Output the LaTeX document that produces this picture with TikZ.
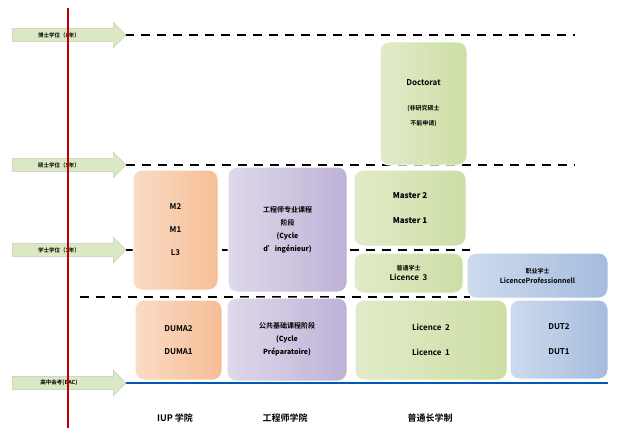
\documentclass[tikz,border=0pt]{standalone}
\usepackage{fontspec}
\setmainfont{Noto Sans CJK SC}[BoldFont=* Bold]
\usetikzlibrary{shapes.arrows}
\definecolor{org}{RGB}{246,190,150}
\definecolor{pur}{RGB}{190,178,214}
\definecolor{grn}{RGB}{205,222,165}
\definecolor{blu}{RGB}{165,188,222}
\definecolor{arr}{RGB}{218,232,196}
\tikzset{
 bx/.style={rounded corners=9pt, draw=white, line width=1pt, inner sep=0pt, align=center, font=\bfseries\fontsize{8}{15}\selectfont},
 ob/.style={bx, left color=org!55, right color=org},
 pb/.style={bx, left color=pur!50, right color=pur},
 gb/.style={bx, left color=grn!60, right color=grn},
 bb/.style={bx, left color=blu!55, right color=blu},
 lvl/.style={single arrow, draw=arr!70!black!60, fill=arr, minimum height=114pt, minimum width=26pt, single arrow head extend=4pt, single arrow head indent=0pt, inner sep=1pt, font=\bfseries\fontsize{5.5}{6}\selectfont, anchor=west},
 dl/.style={dashed, dash pattern=on 9pt off 7pt, line width=1.3pt},
 bl/.style={font=\bfseries\fontsize{9}{10}\selectfont}
}
\begin{document}
\begin{tikzpicture}[x=1pt,y=-1pt]
\useasboundingbox[fill=white] (0,0) rectangle (640,444);
% dashed lines
\coordinate (d1a) at (125,35); \coordinate (d1b) at (575,35);
\coordinate (d2a) at (110,165); \coordinate (d2b) at (575,165);
\coordinate (d3a) at (110,250); \coordinate (d3b) at (470,250);
\coordinate (d4a) at (80,297); \coordinate (d4b) at (470,297);
\coordinate (ba) at (123,383); \coordinate (bb) at (608,383);
\draw[dl] (d1a) -- (d1b);
\draw[dl] (d2a) -- (d2b);
\draw[dl] (d3a) -- (d3b);
\draw[dl] (d4a) -- (d4b);
\draw[line width=2pt, blue!50!cyan!70!black] (ba) -- (bb);
% red line
\coordinate (ra) at (68,8); \coordinate (rb) at (68,428);
% arrows
\node[lvl] (a1) at (12,35) {\hspace*{-14pt}博士学位（8年）};
\node[lvl] (a2) at (12,165) {\hspace*{-14pt}硕士学位（5年）};
\node[lvl] (a3) at (12,250) {\hspace*{-14pt}学士学位（3年）};
\node[lvl] (a4) at (12,383) {\hspace*{-14pt}高中会考(BAC)};
\draw[line width=2.2pt, red!75!black] (ra) -- (rb);
% boxes
\node[ob, minimum width=85pt, minimum height=120pt] (iu) at (175.5,230) {M2\\[8pt]M1\\[8pt]L3};
\node[ob, minimum width=87pt, minimum height=80pt] (il) at (178.5,340) {DUMA2\\[8pt]DUMA1};
\node[pb, minimum width=119pt, minimum height=125pt, font=\bfseries\fontsize{7}{13}\selectfont] (eu) at (287.5,229.5) {工程师专业课程\\阶段\\\textit{(Cycle}\\\textit{d'ingénieur)}};
\node[pb, minimum width=120pt, minimum height=83pt, font=\bfseries\fontsize{7}{13}\selectfont] (el) at (287,339.5) {公共基础课程阶段\\\textit{(Cycle}\\\textit{Préparatoire)}};
\node[gb, minimum width=87pt, minimum height=123pt] (doc) at (423.5,103.5) {Doctorat\\[10pt]\fontsize{6}{9}\selectfont (非研究硕士\\\fontsize{6}{9}\selectfont 不能申请)};
\node[gb, minimum width=112pt, minimum height=76pt] (ma) at (410,208) {\textit{Master 2}\\[10pt]\textit{Master 1}};
\node[gb, minimum width=109pt, minimum height=40pt, font=\bfseries\fontsize{8}{10}\selectfont] (l3) at (408.5,273) {\fontsize{6}{8}\selectfont 普通学士\\Licence\ \ 3};
\node[bb, minimum width=141pt, minimum height=45pt, font=\bfseries\fontsize{7}{10}\selectfont] (lp) at (537.5,275.5) {\fontsize{6}{8}\selectfont 职业学士\\LicenceProfessionnell};
\node[gb, minimum width=152pt, minimum height=80pt] (li) at (431,340) {Licence\ \ 2\\[10pt]Licence\ \ 1};
\node[bb, minimum width=98pt, minimum height=79pt] (du) at (559,339.5) {DUT2\\[10pt]DUT1};
% bottom labels
\node[bl] (c1) at (175,418) {IUP 学院};
\node[bl] (c2) at (285,418) {工程师学院};
\node[bl] (c3) at (430,418) {普通长学制};
\end{tikzpicture}
\end{document}
